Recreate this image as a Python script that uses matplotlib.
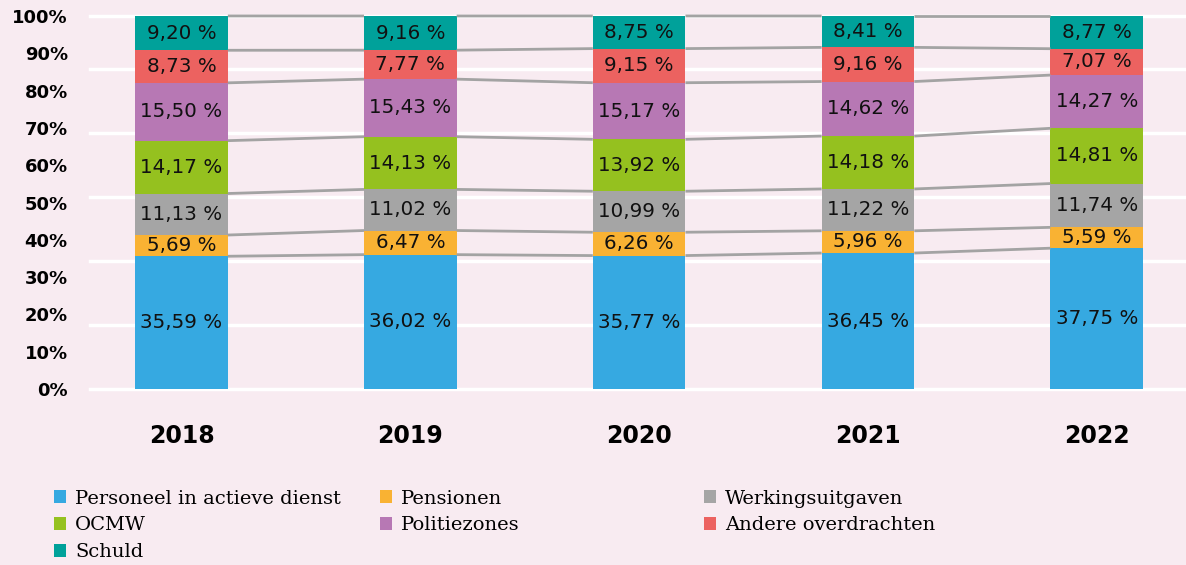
import matplotlib.pyplot as plt
import numpy as np
from matplotlib.patches import Patch

# Jaren en aandelen per uitgavencategorie (in %)
years = ['2018', '2019', '2020', '2021', '2022']
series_names = ['Personeel in actieve dienst', 'Pensionen', 'Werkingsuitgaven',
                'OCMW', 'Politiezones', 'Andere overdrachten', 'Schuld']
personeel = [35.59, 36.02, 35.77, 36.45, 37.75]
pensionen = [5.69, 6.47, 6.26, 5.96, 5.59]
werking = [11.13, 11.02, 10.99, 11.22, 11.74]
ocmw = [14.17, 14.13, 13.92, 14.18, 14.81]
politie = [15.50, 15.43, 15.17, 14.62, 14.27]
andere = [8.73, 7.77, 9.15, 9.16, 7.07]
schuld = [9.20, 9.16, 8.75, 8.41, 8.77]
y_ticks = [0, 10, 20, 30, 40, 50, 60, 70, 80, 90, 100]

colors = ['#36a9e1', '#f9b233', '#a5a5a5', '#95c11f', '#b778b4', '#ec6260', '#00a19a']
bg = '#f8ebf1'

data = [personeel, pensionen, werking, ocmw, politie, andere, schuld]

fig = plt.figure(figsize=(11.86, 5.65), dpi=100)
fig.patch.set_facecolor(bg)
ax = fig.add_axes([90 / 1186, 176 / 565, 1096 / 1186, 373 / 565])
ax.set_facecolor(bg)

x = np.arange(len(years))
width = 0.405

# witte hulplijnen (zoals in het origineel, niet op de 10%-stappen)
for g in [0, 17.15, 34.3, 51.45, 68.6, 85.75, 100]:
    ax.axhline(g, color='white', lw=2.5, zorder=0, clip_on=False)

bottom = np.zeros(len(years))
for vals, col in zip(data, colors):
    vals = np.array(vals)
    ax.bar(x, vals, width, bottom=bottom, color=col, zorder=2)
    for xi, b, v in zip(x, bottom, vals):
        ax.text(xi, b + v / 2, f'{v:.2f} %'.replace('.', ','), ha='center',
                va='center', fontsize=14.3, color='#111111', zorder=4)
    top = bottom + vals
    # verbindingslijnen tussen de staven
    for i in range(len(years) - 1):
        ax.plot([x[i] + width / 2, x[i + 1] - width / 2], [top[i], top[i + 1]],
                color='#a3a3a3', lw=2, zorder=3, solid_capstyle='butt', clip_on=False)
    bottom = top

ax.set_xlim(-0.4, 4.39)
ax.set_ylim(0, 100)
ax.set_xticks(x)
ax.set_xticklabels(years, fontsize=17, fontweight='bold')
ax.set_yticks(y_ticks)
ax.set_yticklabels([f'{t}%' for t in y_ticks], fontsize=13, fontweight='bold')
ax.tick_params(axis='x', length=0, pad=25)
ax.tick_params(axis='y', length=0, pad=16)
for s in ax.spines.values():
    s.set_visible(False)

# legenda in drie kolommen
handles = [Patch(facecolor=c, edgecolor='none') for c in colors]
cols = [[0, 3, 6], [1, 4], [2, 5]]
col_x = [44, 370, 694]
for idx, cx in zip(cols, col_x):
    leg = fig.legend([handles[i] for i in idx], [series_names[i] for i in idx],
                     loc='upper left', bbox_to_anchor=(cx / 1186, 1 - 480 / 565),
                     frameon=False, handlelength=0.65, handleheight=0.65,
                     handletextpad=0.45, labelspacing=0.45, borderpad=0,
                     prop={'family': 'DejaVu Serif', 'size': 14})

fig.savefig('out.png', dpi=100, facecolor=bg)
